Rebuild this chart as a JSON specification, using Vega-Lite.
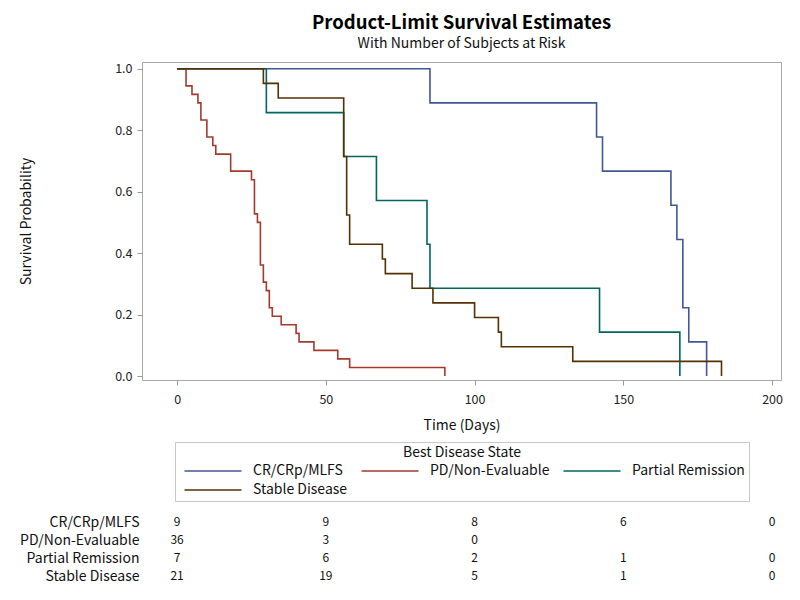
{
  "$schema": "https://vega.github.io/schema/vega-lite/v6.json",
  "background": "white",
  "padding": {"left": 19, "top": 13, "right": 5, "bottom": 5},
  "spacing": 80,
  "config": {
    "font": "Noto Sans CJK JP",
    "view": {"stroke": "#a8a8a8"},
    "axis": {"labelColor": "#222", "titleColor": "#111", "labelFontSize": 12.5, "titleFontSize": 14, "titleFontWeight": "normal", "tickColor": "#999", "grid": false}
  },
  "datasets": {
    "km": [
      {"group": "CR/CRp/MLFS", "day": 0, "survival": 1},
      {"group": "CR/CRp/MLFS", "day": 85, "survival": 0.8889},
      {"group": "CR/CRp/MLFS", "day": 141, "survival": 0.7778},
      {"group": "CR/CRp/MLFS", "day": 143, "survival": 0.6667},
      {"group": "CR/CRp/MLFS", "day": 166, "survival": 0.5556},
      {"group": "CR/CRp/MLFS", "day": 168, "survival": 0.4444},
      {"group": "CR/CRp/MLFS", "day": 170, "survival": 0.2222},
      {"group": "CR/CRp/MLFS", "day": 172, "survival": 0.1111},
      {"group": "CR/CRp/MLFS", "day": 178, "survival": 0},
      {"group": "PD/Non-Evaluable", "day": 0, "survival": 1},
      {"group": "PD/Non-Evaluable", "day": 3, "survival": 0.9444},
      {"group": "PD/Non-Evaluable", "day": 5, "survival": 0.9167},
      {"group": "PD/Non-Evaluable", "day": 7, "survival": 0.8889},
      {"group": "PD/Non-Evaluable", "day": 8, "survival": 0.8333},
      {"group": "PD/Non-Evaluable", "day": 10, "survival": 0.7778},
      {"group": "PD/Non-Evaluable", "day": 12, "survival": 0.75},
      {"group": "PD/Non-Evaluable", "day": 13, "survival": 0.7222},
      {"group": "PD/Non-Evaluable", "day": 18, "survival": 0.6667},
      {"group": "PD/Non-Evaluable", "day": 25, "survival": 0.6389},
      {"group": "PD/Non-Evaluable", "day": 26, "survival": 0.5278},
      {"group": "PD/Non-Evaluable", "day": 27, "survival": 0.5},
      {"group": "PD/Non-Evaluable", "day": 28, "survival": 0.3611},
      {"group": "PD/Non-Evaluable", "day": 29, "survival": 0.3056},
      {"group": "PD/Non-Evaluable", "day": 30, "survival": 0.2778},
      {"group": "PD/Non-Evaluable", "day": 31, "survival": 0.2222},
      {"group": "PD/Non-Evaluable", "day": 32, "survival": 0.1944},
      {"group": "PD/Non-Evaluable", "day": 35, "survival": 0.1667},
      {"group": "PD/Non-Evaluable", "day": 40, "survival": 0.1389},
      {"group": "PD/Non-Evaluable", "day": 41, "survival": 0.1111},
      {"group": "PD/Non-Evaluable", "day": 46, "survival": 0.0833},
      {"group": "PD/Non-Evaluable", "day": 54, "survival": 0.0556},
      {"group": "PD/Non-Evaluable", "day": 58, "survival": 0.0278},
      {"group": "PD/Non-Evaluable", "day": 90, "survival": 0},
      {"group": "Partial Remission", "day": 0, "survival": 1},
      {"group": "Partial Remission", "day": 30, "survival": 0.8571},
      {"group": "Partial Remission", "day": 56, "survival": 0.7143},
      {"group": "Partial Remission", "day": 67, "survival": 0.5714},
      {"group": "Partial Remission", "day": 84, "survival": 0.4286},
      {"group": "Partial Remission", "day": 85, "survival": 0.2857},
      {"group": "Partial Remission", "day": 142, "survival": 0.1429},
      {"group": "Partial Remission", "day": 169, "survival": 0},
      {"group": "Stable Disease", "day": 0, "survival": 1},
      {"group": "Stable Disease", "day": 29, "survival": 0.9524},
      {"group": "Stable Disease", "day": 34, "survival": 0.9048},
      {"group": "Stable Disease", "day": 56, "survival": 0.7143},
      {"group": "Stable Disease", "day": 57, "survival": 0.5238},
      {"group": "Stable Disease", "day": 58, "survival": 0.4286},
      {"group": "Stable Disease", "day": 69, "survival": 0.381},
      {"group": "Stable Disease", "day": 70, "survival": 0.3333},
      {"group": "Stable Disease", "day": 79, "survival": 0.2857},
      {"group": "Stable Disease", "day": 86, "survival": 0.2381},
      {"group": "Stable Disease", "day": 100, "survival": 0.1905},
      {"group": "Stable Disease", "day": 108, "survival": 0.1429},
      {"group": "Stable Disease", "day": 109, "survival": 0.0952},
      {"group": "Stable Disease", "day": 133, "survival": 0.0476},
      {"group": "Stable Disease", "day": 183, "survival": 0}
    ],
    "risk": [
      {"group": "CR/CRp/MLFS", "day": 0, "n": 9},
      {"group": "CR/CRp/MLFS", "day": 50, "n": 9},
      {"group": "CR/CRp/MLFS", "day": 100, "n": 8},
      {"group": "CR/CRp/MLFS", "day": 150, "n": 6},
      {"group": "CR/CRp/MLFS", "day": 200, "n": 0},
      {"group": "PD/Non-Evaluable", "day": 0, "n": 36},
      {"group": "PD/Non-Evaluable", "day": 50, "n": 3},
      {"group": "PD/Non-Evaluable", "day": 100, "n": 0},
      {"group": "Partial Remission", "day": 0, "n": 7},
      {"group": "Partial Remission", "day": 50, "n": 6},
      {"group": "Partial Remission", "day": 100, "n": 2},
      {"group": "Partial Remission", "day": 150, "n": 1},
      {"group": "Partial Remission", "day": 200, "n": 0},
      {"group": "Stable Disease", "day": 0, "n": 21},
      {"group": "Stable Disease", "day": 50, "n": 19},
      {"group": "Stable Disease", "day": 100, "n": 5},
      {"group": "Stable Disease", "day": 150, "n": 1},
      {"group": "Stable Disease", "day": 200, "n": 0}
    ]
  },
  "vconcat": [
    {
      "width": 639,
      "height": 318,
      "title": {"text": "Product-Limit Survival Estimates", "subtitle": "With Number of Subjects at Risk", "frame": "group", "anchor": "middle", "fontSize": 18.5, "fontWeight": "bold", "color": "#000", "subtitleFontSize": 14, "subtitleColor": "#111", "offset": 11, "subtitlePadding": 5},
      "data": {"name": "km"},
      "mark": {"type": "line", "interpolate": "step-after", "strokeWidth": 1.6},
      "encoding": {
        "x": {"field": "day", "type": "quantitative", "scale": {"domain": [-11.8, 203], "nice": false, "zero": false},
              "axis": {"values": [0, 50, 100, 150, 200], "title": "Time (Days)", "domain": false, "tickSize": 5, "labelPadding": 8, "titlePadding": 13}},
        "y": {"field": "survival", "type": "quantitative", "scale": {"domain": [-0.013, 1.022], "nice": false},
              "axis": {"values": [0, 0.2, 0.4, 0.6, 0.8, 1], "format": ".1f", "title": "Survival Probability", "domain": false, "tickSize": 5, "labelPadding": 5, "titlePadding": 81}},
        "color": {"field": "group", "type": "nominal",
                  "scale": {"domain": ["CR/CRp/MLFS", "PD/Non-Evaluable", "Partial Remission", "Stable Disease"], "range": ["#445694", "#A23A2E", "#01665E", "#543005"]},
                  "legend": {"orient": "none", "legendX": 33, "legendY": 380, "title": "Best Disease State", "direction": "horizontal", "columns": 3, "titleAnchor": "middle", "titleFontSize": 14, "titleFontWeight": "normal", "titleColor": "#111", "titlePadding": 4, "labelFontSize": 14, "labelColor": "#111", "symbolType": "M-5,0H5", "symbolSize": 130, "symbolStrokeWidth": 1.5, "symbolOffset": 27, "labelOffset": 33, "strokeColor": "#c8c8c8", "padding": 4, "rowPadding": 5, "columnPadding": 8, "labelLimit": 300}}
      }
    },
    {
      "width": 639,
      "height": 72,
      "view": {"stroke": null},
      "data": {"name": "risk"},
      "mark": {"type": "text", "fontSize": 12, "color": "#111"},
      "encoding": {
        "x": {"field": "day", "type": "quantitative", "scale": {"domain": [-11.8, 203], "nice": false, "zero": false}, "axis": null},
        "y": {"field": "group", "type": "nominal", "scale": {"domain": ["CR/CRp/MLFS", "PD/Non-Evaluable", "Partial Remission", "Stable Disease"]},
              "axis": {"title": null, "domain": false, "ticks": false, "labelPadding": 3, "labelFontSize": 14, "labelColor": "#111"}},
        "text": {"field": "n", "type": "quantitative"}
      }
    }
  ]
}
